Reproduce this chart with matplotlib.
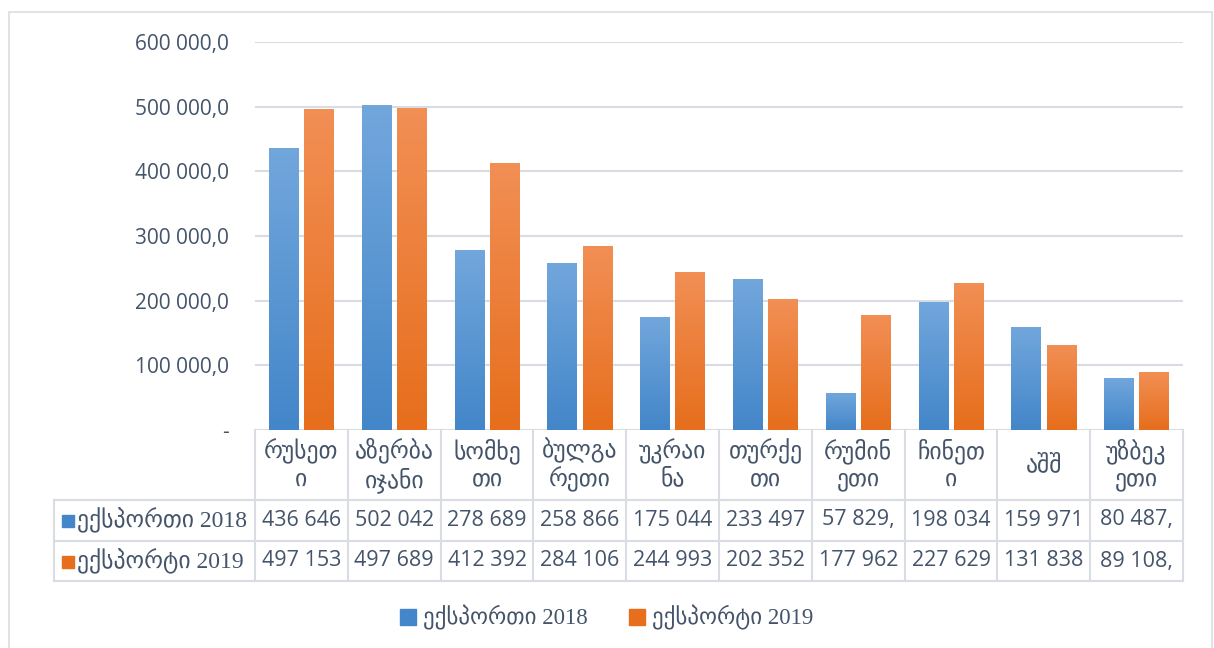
import matplotlib
matplotlib.use("Agg")
import matplotlib.pyplot as plt
import matplotlib.transforms as mtransforms
from matplotlib.patches import Rectangle, Patch
import numpy as np

W, H = 1214, 648

countries = ["რუსეთ\nი", "აზერბა\nიჯანი", "სომხე\nთი", "ბულგა\nრეთი", "უკრაი\nნა",
             "თურქე\nთი", "რუმინ\nეთი", "ჩინეთ\nი", "აშშ", "უზბეკ\nეთი"]
export_2018 = [436646, 502042, 278689, 258866, 175044, 233497, 57829, 198034, 159971, 80487]
export_2019 = [497153, 497689, 412392, 284106, 244993, 202352, 177962, 227629, 131838, 89108]
series_names = ["ექსპორთი 2018", "ექსპორტი 2019"]
yticks = [0, 100000, 200000, 300000, 400000, 500000, 600000]

txt_color = "#44546a"
grid_color = "#d9dde3"
num_font = ["Open Sans", "DejaVu Sans"]
lbl_font = ["Liberation Serif", "DejaVu Sans"]

blue_top, blue_bot = "#72a7dc", "#4386c9"
orng_top, orng_bot = "#f28f55", "#e66e1c"


def fx(px):
    return px / W


def fy(py):
    return 1 - py / H


fig = plt.figure(figsize=(W / 100, H / 100), dpi=100)
ax = fig.add_axes([fx(255), fy(430), (1183 - 255) / W, (430 - 42) / H])

x = np.arange(len(countries))
bw = 0.32
off = 0.19


def grad_bars(bars, top, bot):
    cmap = matplotlib.colors.LinearSegmentedColormap.from_list("g", [bot, top])
    grad = np.linspace(0, 1, 256).reshape(-1, 1)
    for b in bars:
        x0, y0 = b.get_x(), b.get_y()
        w, h = b.get_width(), b.get_height()
        im = ax.imshow(grad, cmap=cmap, origin="lower", aspect="auto",
                       extent=[x0, x0 + w, y0, y0 + h], zorder=2)
        im.set_clip_path(b)


b1 = ax.bar(x - off, export_2018, bw, color="none", edgecolor="none", zorder=2)
b2 = ax.bar(x + off, export_2019, bw, color="none", edgecolor="none", zorder=2)
grad_bars(b1, blue_top, blue_bot)
grad_bars(b2, orng_top, orng_bot)

ax.set_xlim(-0.5, len(countries) - 0.5)
ax.set_ylim(0, 600000)
ax.set_yticks(yticks)
ax.set_yticklabels(["-" if v == 0 else f"{v:,.1f}".replace(",", " ").replace(".", ",")
                    for v in yticks], fontsize=15, color=txt_color, family=num_font)
ax.tick_params(axis="y", length=0, pad=19)
ax.set_xticks([])
ax.grid(axis="y", color=grid_color, lw=1.5, zorder=0)
for s in ax.spines.values():
    s.set_visible(False)

# data table under the plot
tr = mtransforms.blended_transform_factory(ax.transData, fig.transFigure)
lc = dict(color=grid_color, lw=1.5, clip_on=False)
edges = np.arange(len(countries) + 1) - 0.5
for e in edges:
    ax.plot([e, e], [fy(430), fy(581)], transform=tr, **lc)
for py in (500, 541, 581):
    fig.add_artist(plt.Line2D([fx(54), fx(1183)], [fy(py), fy(py)], **lc))
fig.add_artist(plt.Line2D([fx(54), fx(54)], [fy(500), fy(581)], **lc))

for i, c in enumerate(countries):
    ax.text(i, fy(465), c, transform=tr, ha="center", va="center", fontsize=17,
            color=txt_color, linespacing=1.2, family=num_font)

rows = [(export_2018, blue_top, blue_bot), (export_2019, orng_top, orng_bot)]
for r, (vals, ctop, cbot) in enumerate(rows):
    yc = fy(520 + 41 * r)
    for i, v in enumerate(vals):
        s = f"{v:,.1f}".replace(",", " ").replace(".", ",")[:7]
        ax.text(i, yc, s, transform=tr, ha="center", va="center", fontsize=15.5,
                color=txt_color, family=num_font)
    fig.add_artist(Rectangle((fx(62), yc - 6.5 / H), 12 / W, 12 / H,
                             color=cbot, transform=fig.transFigure))
    fig.text(fx(77), yc, series_names[r], ha="left", va="center", fontsize=17,
             color=txt_color, family=lbl_font)

handles = [Patch(color=blue_bot), Patch(color=orng_bot)]
fig.legend(handles, series_names, loc="center", bbox_to_anchor=(0.5, fy(618)),
           ncol=2, frameon=False, handlelength=0.7, handleheight=0.7,
           handletextpad=0.3, columnspacing=1.8,
           prop={"family": lbl_font, "size": 16.5}, labelcolor=txt_color)

fig.add_artist(Rectangle((fx(9), fy(660)), (1212 - 9) / W, (660 - 12) / H,
                         fill=False, edgecolor=grid_color, lw=1.2,
                         transform=fig.transFigure))

fig.savefig("out.png", dpi=100)
